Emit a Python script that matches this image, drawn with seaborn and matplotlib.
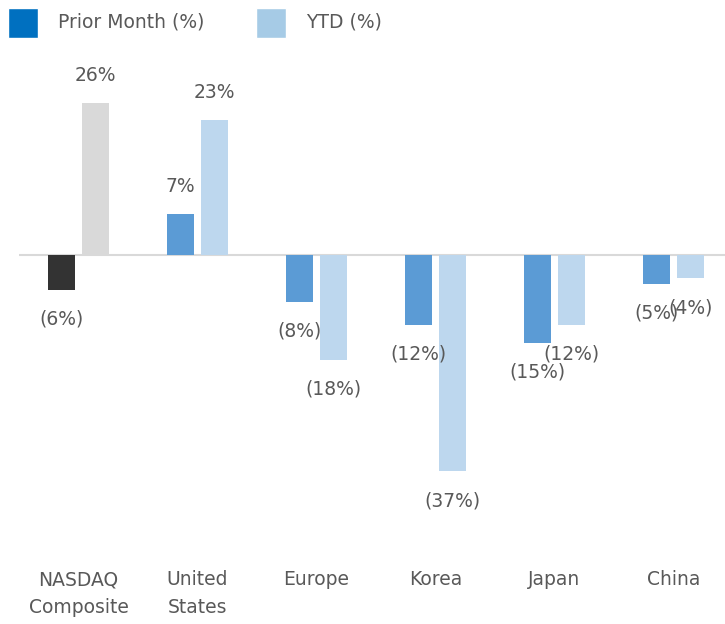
import pandas as pd
import matplotlib.pyplot as plt
import seaborn as sns
from matplotlib.patches import Rectangle

# chart values
categories = ['NASDAQ\nComposite', 'United\nStates', 'Europe', 'Korea', 'Japan', 'China']
prior_month = [-6, 7, -8, -12, -15, -5]
ytd = [26, 23, -18, -37, -12, -4]
series = ['Prior Month (%)', 'YTD (%)']

df = pd.DataFrame({
    'Region': categories * 2,
    'Series': [series[0]] * len(categories) + [series[1]] * len(categories),
    'Value': prior_month + ytd,
})

text_color = '#595959'
bar_colors = {'Prior Month (%)': '#5B9BD5', 'YTD (%)': '#BDD7EE'}
legend_colors = ['#0070C0', '#A6CBE6']
nasdaq_colors = ['#333333', '#D9D9D9']
fs = 13.5

sns.set_style('white')
plt.rcParams['font.family'] = ['DejaVu Sans']

W, H = 725, 624
fig = plt.figure(figsize=(W / 100, H / 100), dpi=100)
ax = fig.add_axes([19 / W, 1 - 545 / H, 706 / W, 500 / H])

sns.barplot(data=df, x='Region', y='Value', hue='Series', palette=bar_colors,
            width=0.57, gap=0.2, saturation=1, linewidth=0, legend=False, ax=ax)

# NASDAQ bars drawn in grey tones
for cont, c in zip(ax.containers, nasdaq_colors):
    cont[0].set_facecolor(c)

# data labels: positive above, negative in brackets below
for cont, vals in zip(ax.containers, [prior_month, ytd]):
    for bar, value in zip(cont, vals):
        xc = bar.get_x() + bar.get_width() / 2
        if value >= 0:
            txt, off = f'{value}%', 20
        else:
            txt, off = f'({abs(value)}%)', -21
        ax.annotate(txt, xy=(xc, value), xytext=(0, off), textcoords='offset points',
                    ha='center', va='center', fontsize=fs, color=text_color)

ax.axhline(0, color='#D9D9D9', lw=1.5, zorder=0)
ax.set_xlim(-0.5, -0.5 + 706 / 119)
ax.set_ylim(-(545 - 255) / 5.85, (255 - 45) / 5.85)
ax.set_yticks([])
ax.set_xlabel('')
ax.set_ylabel('')
ax.tick_params(axis='x', length=0, pad=18, labelsize=fs, labelcolor=text_color)
for lbl in ax.get_xticklabels():
    lbl.set_linespacing(1.6)
sns.despine(ax=ax, left=True, bottom=True)

# legend: squares and labels placed in pixel coordinates
for x0, c, name in zip([8, 256], legend_colors, series):
    fig.add_artist(Rectangle((x0 / W, 1 - 38 / H), 30 / W, 30 / H,
                             facecolor=c, transform=fig.transFigure))
    fig.text((x0 + 50) / W, 1 - 22 / H, name, fontsize=fs, color=text_color,
             ha='left', va='center')

fig.savefig('out.png', dpi=100)
